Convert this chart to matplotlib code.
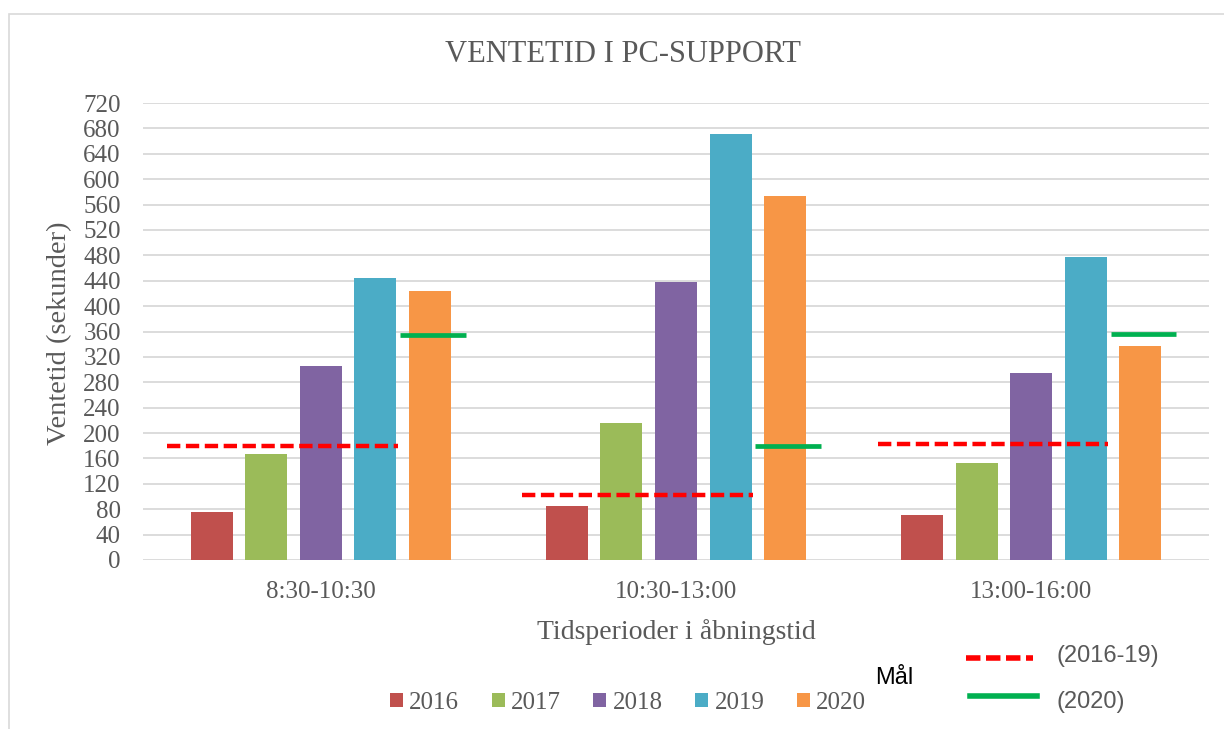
import matplotlib
matplotlib.use("Agg")
import matplotlib.pyplot as plt
from matplotlib.lines import Line2D
from matplotlib.patches import Rectangle
import numpy as np

plt.rcParams['font.family'] = ['Liberation Serif', 'DejaVu Serif']

periods = ['8:30-10:30', '10:30-13:00', '13:00-16:00']
years = ['2016', '2017', '2018', '2019', '2020']
v2016 = [76, 85, 71]
v2017 = [167, 216, 153]
v2018 = [306, 438, 295]
v2019 = [445, 671, 478]
v2020 = [424, 574, 337]
goal_2016_19 = [180, 103, 182]
goal_2020 = [354, 179, 356]

colors = ['#C0504D', '#9BBB59', '#8064A2', '#4BACC6', '#F79646']
gray = '#595959'
W, H = 1224, 729

fig = plt.figure(figsize=(W / 100, H / 100), dpi=100)
ax = fig.add_axes([143 / W, 1 - 560 / H, (1209 - 143) / W, (560 - 103) / H])

x = np.arange(len(periods))
step = 0.1535
bars = []
for i, vals in enumerate([v2016, v2017, v2018, v2019, v2020]):
    b = ax.bar(x + (i - 2) * step, vals, width=0.118, color=colors[i], zorder=2)
    bars.append(b)

# goal lines
ax.hlines(goal_2016_19, x - 0.432, x + 0.217, colors='#FF0000', linewidth=3.2,
          linestyles=[(0, (3.0, 1.25))], zorder=3)
ax.hlines(goal_2020, x + 0.223, x + 0.408, colors='#00B050', linewidth=3.4, zorder=3)

ax.set_xlim(-0.5, 2.5)
ax.set_ylim(0, 720)
ax.set_yticks(np.arange(0, 721, 40))
ax.set_xticks(x)
ax.set_xticklabels(periods)
ax.grid(axis='y', color='#D9D9D9', linewidth=1.3, zorder=0)
ax.set_axisbelow(True)
for s in ax.spines.values():
    s.set_visible(False)
ax.tick_params(axis='both', length=0, labelsize=18, colors=gray)
ax.tick_params(axis='y', pad=16)
ax.tick_params(axis='x', pad=15)

fig.text(623 / W, 1 - 54 / H, 'VENTETID I PC-SUPPORT', ha='center', va='center',
         fontsize=22, color=gray)
fig.text(60 / W, 1 - 333 / H, 'Ventetid (sekunder)', ha='center', va='center',
         rotation=90, fontsize=20.5, color=gray)
fig.text(676 / W, 1 - 632 / H, 'Tidsperioder i åbningstid', ha='center', va='center',
         fontsize=20, color=gray)

fig.legend(handles=[b[0] for b in bars], labels=years, ncol=5, loc='center',
           bbox_to_anchor=(628 / W, 1 - 703 / H), frameon=False, fontsize=18,
           handlelength=0.52, handleheight=0.52, handletextpad=0.25,
           columnspacing=1.3, borderpad=0, labelcolor=gray)

# goal legend
fig.text(875 / W, 1 - 678 / H, 'Mål', ha='left', va='center', fontsize=17,
         family=['Liberation Sans', 'DejaVu Sans'], color='black')
fig.add_artist(Line2D([966 / W, 1033 / W], [1 - 658 / H] * 2, transform=fig.transFigure,
                      color='#FF0000', linewidth=4, dashes=(2.6, 1.0)))
fig.add_artist(Line2D([970 / W, 1037 / W], [1 - 696 / H] * 2, transform=fig.transFigure,
                      color='#00B050', linewidth=4))
fig.text(1057 / W, 1 - 656 / H, '(2016-19)', ha='left', va='center', fontsize=17,
         family=['Liberation Sans', 'DejaVu Sans'], color=gray)
fig.text(1057 / W, 1 - 702 / H, '(2020)', ha='left', va='center', fontsize=17,
         family=['Liberation Sans', 'DejaVu Sans'], color=gray)

# chart border (cut off at right and bottom)
fig.add_artist(Rectangle((9 / W, -0.1), 1.2, 1.1 - 14 / H, transform=fig.transFigure,
                         fill=False, edgecolor='#D9D9D9', linewidth=1.2))

fig.savefig('out.png', dpi=100)
